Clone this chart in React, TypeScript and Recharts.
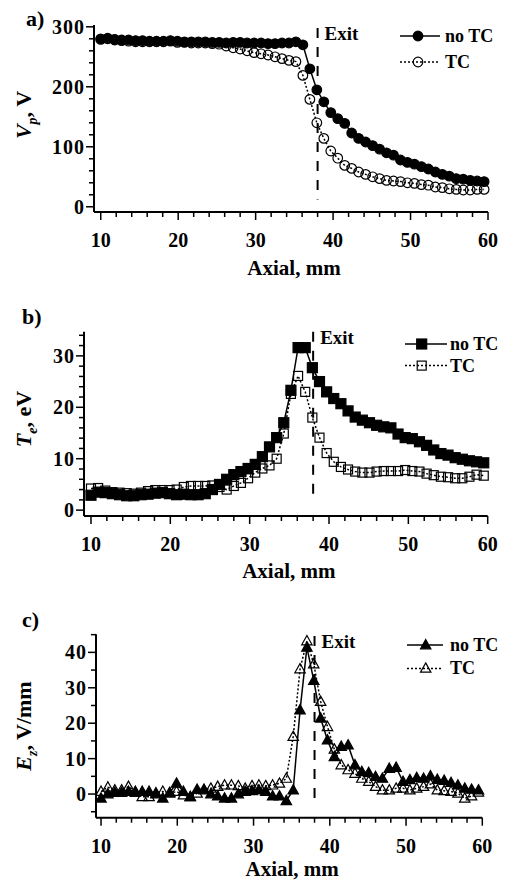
import React from "react";
import { LineChart, Line, XAxis, YAxis, ReferenceLine, Legend, Label } from "recharts";

// axial positions (mm) shared by the three panels
const AXIAL = [
  10.0, 10.9, 11.8, 12.7, 13.6, 14.5, 15.4, 16.3, 17.2, 18.1, 19.0, 19.9, 20.8, 21.7,
  22.6, 23.5, 24.4, 25.3, 26.2, 27.1, 28.0, 28.9, 29.8, 30.7, 31.6, 32.5, 33.4, 34.3,
  35.2, 36.1, 37.0, 37.9, 38.8, 39.7, 40.6, 41.5, 42.4, 43.3, 44.2, 45.1, 46.0, 46.9,
  47.8, 48.7, 49.6, 50.5, 51.4, 52.3, 53.2, 54.1, 55.0, 55.9, 56.8, 57.7, 58.6, 59.5,
];

// a) plasma potential, V
const VP_NO_TC = [
  280, 281, 279, 278, 278, 277, 277, 276, 276, 276, 277, 276, 275, 275,
  275, 275, 274, 274, 273, 274, 274, 273, 273, 273, 272, 272, 273, 273,
  275, 270, 230, 195, 175, 157, 147, 139, 123, 114, 108, 102, 96, 90,
  86, 78, 74, 71, 67, 63, 58, 54, 51, 47, 46, 44, 43, 42,
];
const VP_TC = [
  279, 280, 278, 277, 276, 275, 275, 275, 275, 275, 276, 274, 274, 273,
  273, 273, 272, 271, 268, 265, 263, 260, 257, 255, 253, 250, 247, 244,
  242, 219, 179, 140, 114, 93, 81, 69, 64, 58, 54, 50, 47, 44,
  43, 42, 40, 39, 37, 36, 33, 32, 30, 29, 28, 28, 29, 29,
];

// b) electron temperature, eV
const TE_NO_TC = [
  2.9, 3.5, 3.4, 3.2, 3.0, 2.8, 2.8, 3.0, 3.1, 3.3, 3.4, 3.2, 3.0, 3.1,
  3.0, 3.0, 3.2, 4.0, 5.0, 6.0, 6.9, 7.5, 8.1, 8.9, 10.4, 12.3, 14.1, 17.0,
  23.3, 31.6, 31.6, 27.7, 25.0, 23.0, 21.7, 20.7, 19.3, 18.1, 17.5, 17.0, 16.5, 16.2,
  16.0, 14.8, 14.1, 13.9, 13.3, 12.6, 11.7, 11.0, 10.7, 10.2, 9.9, 9.6, 9.4, 9.2,
];
const TE_TC = [
  4.2, 4.3, 3.8, 3.5, 3.4, 3.3, 3.2, 3.4, 3.7, 3.9, 3.9, 3.9, 4.0, 4.5,
  4.7, 4.7, 4.7, 4.8, 4.5, 4.0, 4.7, 5.3, 6.2, 7.3, 8.1, 8.7, 10.0, 14.9,
  22.6, 26.1, 23.0, 18.0, 14.1, 11.1, 9.4, 8.4, 7.9, 7.5, 7.3, 7.3, 7.5, 7.6,
  7.6, 7.6, 7.8, 7.6, 7.5, 7.1, 6.8, 6.5, 6.4, 6.2, 6.2, 6.5, 6.9, 6.7,
];

// c) axial electric field, V/mm
const EZ_NO_TC = [
  -1.2, 0, 0.4, 0.4, 0.7, 0.4, 0.7, 0.7, 0, -1.2, 0.4, 3.0, 0.7, -0.8,
  1.3, 1.3, 0, -0.6, -1.2, -1.2, 0, 0.7, 0.9, 1.1, 0.7, -0.6, -0.6, -1.9,
  1.1, 23.7, 41.4, 32.0, 21.4, 15.2, 10.5, 13.4, 13.8, 8.2, 6.3, 6.0, 4.9, 4.4,
  7.2, 7.5, 3.5, 4.0, 4.6, 4.4, 5.1, 4.1, 3.8, 3.2, 2.5, 1.6, 1.3, 1.1,
];
const EZ_TC = [
  0.7, 1.9, 1.1, 1.1, 2.1, 0.7, -0.8, -0.8, 0.3, 0.7, 0.2, 0.7, -0.3, -0.8,
  0.2, 1.1, 1.6, 2.1, 2.5, 2.5, 2.3, 1.6, 2.3, 2.5, 2.3, 2.5, 3.0, 4.4,
  16.2, 35.3, 43.2, 36.7, 26.1, 19.0, 12.6, 8.2, 6.8, 5.8, 4.4, 3.5, 2.1, 1.1,
  1.1, 1.6, 1.6, 1.1, 1.6, 2.1, 2.8, 1.1, 0.9, 0.7, 0.2, -1.2, -0.6, 0.5,
];

const X_TICKS = [10, 12, 14, 16, 18, 20, 22, 24, 26, 28, 30, 32, 34, 36, 38, 40, 42, 44, 46, 48, 50, 52, 54, 56, 58, 60];
const X_LABELS = [10, 20, 30, 40, 50, 60];
const VP_TICKS = [0, 20, 40, 60, 80, 100, 120, 140, 160, 180, 200, 220, 240, 260, 280, 300];
const VP_LABELS = [0, 100, 200, 300];
const TE_TICKS = [0, 2, 4, 6, 8, 10, 12, 14, 16, 18, 20, 22, 24, 26, 28, 30, 32, 34];
const TE_LABELS = [0, 10, 20, 30];
const EZ_TICKS = [-5, 0, 5, 10, 15, 20, 25, 30, 35, 40, 45];
const EZ_LABELS = [0, 10, 20, 30, 40];
const EXIT = 38;

const SERIF = '"Liberation Serif", "Times New Roman", serif';
const INK = "#000";

type Shape = "circle" | "square" | "triangle";

function Marker({ cx, cy, shape, filled }: { cx: number; cy: number; shape: Shape; filled: boolean }) {
  const fill = filled ? INK : "none";
  if (shape === "circle") {
    return <circle cx={cx} cy={cy} r={4.8} fill={fill} stroke={INK} strokeWidth={1.2} />;
  }
  if (shape === "square") {
    const s = filled ? 10 : 9;
    return <rect x={cx - s / 2} y={cy - s / 2} width={s} height={s} fill={fill} stroke={INK} strokeWidth={1.2} />;
  }
  return (
    <polygon
      points={`${cx},${cy - 5.5} ${cx + 5.2},${cy + 3.8} ${cx - 5.2},${cy + 3.8}`}
      fill={fill}
      stroke={INK}
      strokeWidth={1.2}
    />
  );
}

const xTick = (props: any) => {
  const { x, y, payload } = props;
  const major = X_LABELS.includes(payload.value);
  return (
    <g>
      <line x1={x} x2={x} y1={y} y2={y + (major ? 8 : 5)} stroke={INK} strokeWidth={1.5} />
      {major && (
        <text x={x} y={y + 35} textAnchor="middle" fontFamily={SERIF} fontWeight="bold" fontSize={20} fill={INK}>
          {payload.value}
        </text>
      )}
    </g>
  );
};

const yTick = (labels: number[]) => (props: any) => {
  const { x, y, payload } = props;
  const major = labels.includes(payload.value);
  return (
    <g>
      <line x1={x - (major ? 8 : 5)} x2={x} y1={y} y2={y} stroke={INK} strokeWidth={1.5} />
      {major && (
        <text x={x - 9} y={y} dy="0.35em" textAnchor="end" fontFamily={SERIF} fontWeight="bold" fontSize={20} letterSpacing={1} fill={INK}>
          {payload.value}
        </text>
      )}
    </g>
  );
};

interface LegendSpec {
  left: number;
  top: number;
  gap: number;
  lineLen: number;
  markerAt: number;
  textAt: number;
}

function LegendBox({ spec, shape }: { spec: LegendSpec; shape: Shape }) {
  const rows = [
    { name: "no TC", filled: true, dash: undefined as string | undefined },
    { name: "TC", filled: false, dash: "2 2" },
  ];
  return (
    <svg width={100} height={spec.gap + 20} style={{ display: "block", overflow: "visible" }}>
      {rows.map((r, i) => {
        const cy = 10 + i * spec.gap;
        return (
          <g key={r.name}>
            <line x1={0} x2={spec.lineLen} y1={cy} y2={cy} stroke={INK} strokeWidth={1.5} strokeDasharray={r.dash} />
            <Marker cx={spec.markerAt} cy={cy} shape={shape} filled={r.filled} />
            <text x={spec.textAt} y={cy + 6} fontFamily={SERIF} fontWeight="bold" fontSize={18} fill={INK}>
              {r.name}
            </text>
          </g>
        );
      })}
    </svg>
  );
}

interface PanelProps {
  top: number;
  height: number;
  margin: { top: number; right: number; bottom: number; left: number };
  xDomain: [number, number];
  yDomain: [number, number];
  yTicks: number[];
  yLabels: number[];
  noTc: number[];
  tc: number[];
  shape: Shape;
  letter: string;
  letterTop: number;
  letterLeft: number;
  yTitle: React.ReactNode;
  yTitleY: number;
  xTitleOffset: number;
  exitFrom: number;
  exitTo: number;
  legend: LegendSpec;
}

function Panel(p: PanelProps) {
  const data = AXIAL.map((x, i) => ({ x, noTc: p.noTc[i], tc: p.tc[i] }));
  return (
    <div style={{ position: "absolute", left: 0, top: p.top, width: 505, height: p.height }}>
      <LineChart width={505} height={p.height} data={data} margin={p.margin}>
        <XAxis
          dataKey="x"
          type="number"
          domain={p.xDomain}
          ticks={X_TICKS}
          interval={0}
          tickSize={0}
          tickMargin={0}
          tickLine={false}
          tick={xTick}
          height={50}
          axisLine={{ stroke: INK, strokeWidth: 2 }}
        >
          <Label
            content={(lp: any) => {
              const vb = lp.viewBox;
              return (
                <text
                  x={vb.x + vb.width / 2 + 3}
                  y={vb.y + p.xTitleOffset}
                  textAnchor="middle"
                  fontFamily={SERIF}
                  fontWeight="bold"
                  fontSize={21}
                  fill={INK}
                >
                  Axial, mm
                </text>
              );
            }}
          />
        </XAxis>
        <YAxis
          type="number"
          domain={p.yDomain}
          ticks={p.yTicks}
          interval={0}
          width={60}
          tickSize={0}
          tickMargin={0}
          tickLine={false}
          tick={yTick(p.yLabels)}
          axisLine={{ stroke: INK, strokeWidth: 2 }}
        >
          <Label
            content={() => (
              <text
                x={31}
                y={p.yTitleY}
                transform={`rotate(-90, 31, ${p.yTitleY})`}
                textAnchor="middle"
                fontFamily={SERIF}
                fontWeight="bold"
                fontSize={22}
                fill={INK}
              >
                {p.yTitle}
              </text>
            )}
          />
        </YAxis>
        <ReferenceLine
          segment={[
            { x: EXIT, y: p.exitFrom },
            { x: EXIT, y: p.exitTo },
          ]}
          stroke={INK}
          strokeWidth={2}
          strokeDasharray="10 9"
          label={(lp: any) => {
            const vb = lp.viewBox;
            return (
              <text x={vb.x + 7} y={vb.y + 12} fontFamily={SERIF} fontWeight="bold" fontSize={19} fill={INK}>
                Exit
              </text>
            );
          }}
        />
        <Line
          dataKey="tc"
          name="TC"
          stroke={INK}
          strokeWidth={1.5}
          strokeDasharray="2 2"
          isAnimationActive={false}
          dot={(dp: any) => <Marker key={`tc${dp.index}`} cx={dp.cx} cy={dp.cy} shape={p.shape} filled={false} />}
        />
        <Line
          dataKey="noTc"
          name="no TC"
          stroke={INK}
          strokeWidth={1.5}
          isAnimationActive={false}
          dot={(dp: any) => <Marker key={`n${dp.index}`} cx={dp.cx} cy={dp.cy} shape={p.shape} filled={true} />}
        />
        <Legend
          layout="vertical"
          align="center"
          verticalAlign="middle"
          wrapperStyle={{ left: p.legend.left, top: p.legend.top, width: 100 }}
          content={() => <LegendBox spec={p.legend} shape={p.shape} />}
        />
      </LineChart>
      <div
        style={{
          position: "absolute",
          left: p.letterLeft,
          top: p.letterTop,
          fontFamily: SERIF,
          fontWeight: "bold",
          fontSize: 22,
          lineHeight: "22px",
          color: INK,
        }}
      >
        {p.letter}
      </div>
    </div>
  );
}

export default function App() {
  return (
    <div style={{ position: "absolute", left: 0, top: 0, width: 505, height: 881, background: "#fff" }}>
      <Panel
        top={0}
        height={290}
        margin={{ top: 25, right: 17, bottom: 28, left: 34 }}
        xDomain={[9.13, 60]}
        yDomain={[-8.7, 303]}
        yTicks={VP_TICKS}
        yLabels={VP_LABELS}
        noTc={VP_NO_TC}
        tc={VP_TC}
        shape="circle"
        letter="a)"
        letterLeft={26}
        letterTop={8}
        yTitle={
          <>
            <tspan fontStyle="italic">V</tspan>
            <tspan fontStyle="italic" fontSize={14} dy={6}>p</tspan>
            <tspan dy={-6}>, V</tspan>
          </>
        }
        yTitleY={115}
        xTitleOffset={63}
        exitFrom={298}
        exitTo={12}
        legend={{ left: 400, top: 26, gap: 26, lineLen: 40, markerAt: 18, textAt: 45 }}
      />
      <Panel
        top={290}
        height={300}
        margin={{ top: 41.7, right: 17.3, bottom: 24, left: 24 }}
        xDomain={[9.12, 60]}
        yDomain={[-1.14, 34.7]}
        yTicks={TE_TICKS}
        yLabels={TE_LABELS}
        noTc={TE_NO_TC}
        tc={TE_TC}
        shape="square"
        letter="b)"
        letterLeft={22}
        letterTop={16}
        yTitle={
          <>
            <tspan fontStyle="italic">T</tspan>
            <tspan fontStyle="italic" fontSize={14} dy={6}>e</tspan>
            <tspan dy={-6}>, eV</tspan>
          </>
        }
        yTitleY={129}
        xTitleOffset={62}
        exitFrom={34.7}
        exitTo={1.6}
        legend={{ left: 405, top: 43.7, gap: 21.6, lineLen: 42, markerAt: 16.7, textAt: 45 }}
      />
      <Panel
        top={590}
        height={291}
        margin={{ top: 44.3, right: 22.7, bottom: 13.3, left: 36 }}
        xDomain={[9.34, 60]}
        yDomain={[-6.68, 45.1]}
        yTicks={EZ_TICKS}
        yLabels={EZ_LABELS}
        noTc={EZ_NO_TC}
        tc={EZ_TC}
        shape="triangle"
        letter="c)"
        letterLeft={22}
        letterTop={19}
        yTitle={
          <>
            <tspan fontStyle="italic">E</tspan>
            <tspan fontStyle="italic" fontSize={14} dy={6}>z</tspan>
            <tspan dy={-6}>, V/mm</tspan>
          </>
        }
        yTitleY={136}
        xTitleOffset={58}
        exitFrom={44.6}
        exitTo={-2.5}
        legend={{ left: 407, top: 45.3, gap: 23.4, lineLen: 36, markerAt: 18.7, textAt: 43 }}
      />
    </div>
  );
}
